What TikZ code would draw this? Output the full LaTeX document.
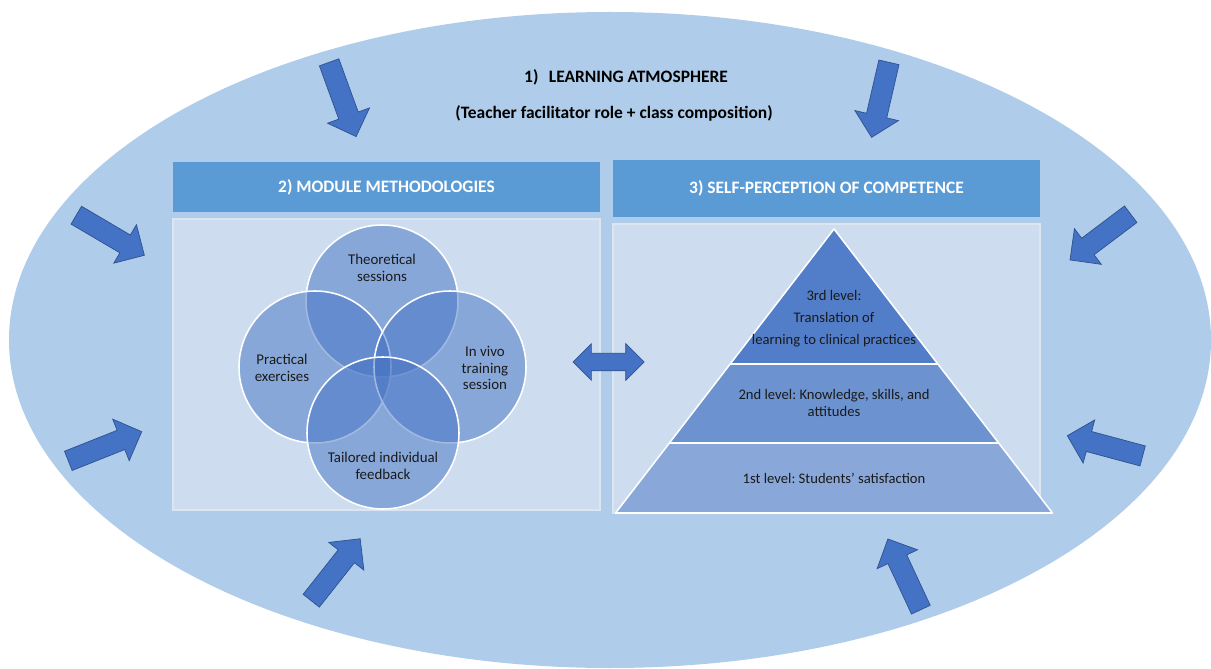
\documentclass[tikz,border=0pt]{standalone}
\usepackage{fontspec}
\setmainfont{Carlito}
\usepackage{tikz}
\usetikzlibrary{shapes.arrows}
\frenchspacing

\definecolor{ellbg}{HTML}{AFCDEA}
\definecolor{hdrblue}{HTML}{5B9BD5}
\definecolor{panelfill}{HTML}{CDDDEF}
\definecolor{panelline}{HTML}{DCE6F3}
\definecolor{arrowblue}{HTML}{4472C4}
\definecolor{arrowline}{HTML}{2F528F}
\definecolor{vennblue}{HTML}{4472C4}
\definecolor{lvlthree}{HTML}{527DC8}
\definecolor{lvltwo}{HTML}{6C93D0}
\definecolor{lvlone}{HTML}{89A7D9}
\definecolor{txtdark}{HTML}{1A1A1A}

\newcommand{\pxu}{0.025cm}

\tikzset{
  ttl/.style={font=\bfseries\fontsize{12.4}{14}\selectfont, text=black, inner sep=0pt},
  hdr/.style={rectangle, fill=hdrblue, text=white, font=\bfseries\fontsize{12.4}{14}\selectfont, inner sep=0pt},
  panel/.style={rectangle, fill=panelfill, draw=panelline, line width=0.8pt, inner sep=0pt},
  venn/.style={circle, minimum size=152*\pxu, inner sep=0pt, fill=vennblue, fill opacity=0.5, draw=white, line width=1.1pt},
  vtxt/.style={align=center, text=txtdark, font=\fontsize{10.6}{11.6}\selectfont, inner sep=0pt},
  lvl/.style={draw=white, line width=1.1pt, line join=round},
  blkarrow/.style={single arrow, draw=arrowline, fill=arrowblue, line width=0.5pt, inner xsep=0pt, inner ysep=10*\pxu, single arrow head extend=12*\pxu, anchor=tail},
  dblarrow/.style={double arrow, draw=arrowline, fill=arrowblue, line width=0.5pt, inner xsep=0pt, inner ysep=8.5*\pxu, double arrow head extend=9.5*\pxu, minimum height=71*\pxu}
}

\begin{document}
\begin{tikzpicture}[x=0.025cm, y=-0.025cm]
\useasboundingbox (0,0) rectangle (1211,669);
\fill[ellbg] (610,340) ellipse [x radius=601, y radius=328];

% outer level
\node[ttl] (atm) at (626,77) {1)\hspace{0.6em}LEARNING ATMOSPHERE};
\node[ttl] (atmsub) at (614,113) {(Teacher facilitator role + class composition)};

% the two panels
\node[hdr, minimum width=427*\pxu, minimum height=50*\pxu] (hdrmeth) at (386.5,187) {2) MODULE METHODOLOGIES};
\node[panel, minimum width=427*\pxu, minimum height=291*\pxu] (panmeth) at (386.5,364.5) {};
\node[hdr, minimum width=427*\pxu, minimum height=57*\pxu] (hdrcomp) at (826.5,188.5) {3) SELF-PERCEPTION OF COMPETENCE};
\node[panel, minimum width=427*\pxu, minimum height=289*\pxu] (pancomp) at (826.5,368.5) {};

% venn
\foreach \nm/\cx/\cy in {theo/382/301, prac/315/367, invivo/450/367, tailored/383/433}
  \node[venn] (\nm) at (\cx,\cy) {};
\node[vtxt] (theolbl) at (382,268) {Theoretical\\sessions};
\node[vtxt] (praclbl) at (282,368) {Practical\\exercises};
\node[vtxt] (invivolbl) at (485,368) {In vivo\\training\\session};
\node[vtxt] (tailoredlbl) at (383,466) {Tailored individual\\feedback};

% pyramid
\fill[lvlone] (615.5,513) -- (1052.5,513) -- (999,443) -- (669,443) -- cycle;
\fill[lvltwo] (669,443) -- (999,443) -- (938,364) -- (730,364) -- cycle;
\fill[lvlthree] (730,364) -- (938,364) -- (834,229) -- cycle;
\draw[lvl] (615.5,513) -- (834,229) -- (1052.5,513) -- cycle;
\draw[lvl] (669,443) -- (999,443);
\draw[lvl] (730,364) -- (938,364);
\node[vtxt, font=\fontsize{10.4}{15.6}\selectfont] (lvl3) at (834,319) {3rd level:\\Translation of\\learning to clinical practices};
\node[vtxt, font=\fontsize{10.4}{12.1}\selectfont] (lvl2) at (834,403) {2nd level: Knowledge, skills, and\\attitudes};
\node[vtxt, font=\fontsize{10.4}{12.1}\selectfont] (lvl1) at (834,478) {1st level: Students’ satisfaction};

% arrows
\node[dblarrow] (link) at (608.5,362) {};
\node[blkarrow, minimum height=79*\pxu, rotate=-70] (arrtl) at (329,62) {};
\node[blkarrow, minimum height=77*\pxu, rotate=-103] (arrtr) at (889,62) {};
\node[blkarrow, minimum height=79*\pxu, rotate=-30.5] (arrlu) at (76,215) {};
\node[blkarrow, minimum height=76*\pxu, rotate=-143] (arrru) at (1131,214) {};
\node[blkarrow, minimum height=79*\pxu, rotate=21.7] (arrll) at (68,461) {};
\node[blkarrow, minimum height=78*\pxu, rotate=165] (arrrl) at (1143,456) {};
\node[blkarrow, minimum height=79*\pxu, rotate=51.7] (arrbl) at (311,601) {};
\node[blkarrow, minimum height=78*\pxu, rotate=115] (arrbr) at (921,610) {};
\end{tikzpicture}
\end{document}
